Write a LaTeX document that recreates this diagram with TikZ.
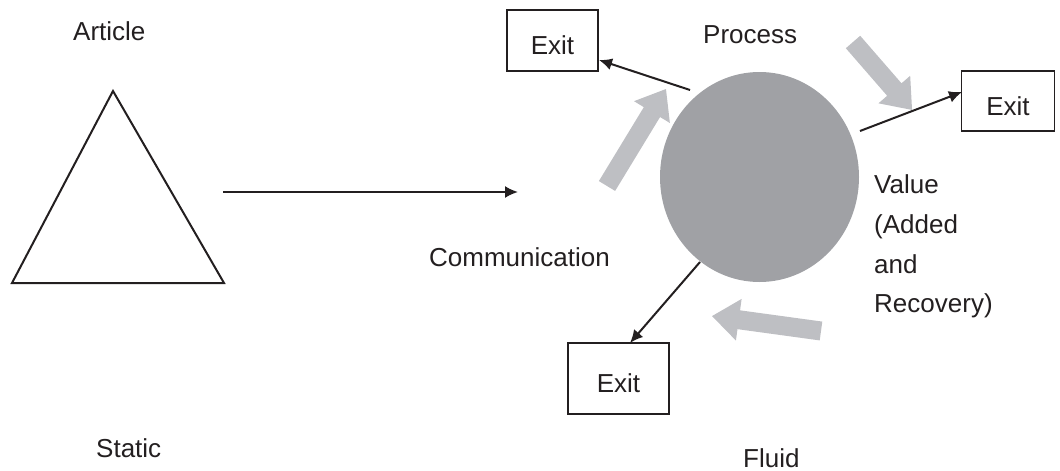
\documentclass[tikz,border=0pt]{standalone}
\usepackage{fontspec}
\setmainfont{Liberation Sans}
\usetikzlibrary{arrows.meta,shapes.geometric}
\definecolor{inkc}{HTML}{231F20}
\definecolor{hubgray}{HTML}{A0A1A5}
\definecolor{flowgray}{HTML}{BEBFC3}
% wide grey arrow: tail point, direction angle, total length
\newcommand{\flowarrow}[3]{%
  \fill[flowgray, shift={#1}, rotate=#2]
    (0,-9.5) -- ({#3-27},-9.5) -- ({#3-27},-21) -- (#3,0)
    -- ({#3-27},21) -- ({#3-27},9.5) -- (0,9.5) -- cycle;}
\begin{document}
\begin{tikzpicture}[x=1pt,y=1pt,
  txt/.style={inner sep=0pt, anchor=base west, text=inkc,
              font=\fontsize{26}{30}\selectfont},
  exitbox/.style={draw=inkc, line width=1.6pt, inner sep=0pt, text=inkc,
              text height=28pt, text depth=0pt,
              font=\fontsize{26}{30}\selectfont},
  link/.style={draw=inkc, line width=2pt, -{Latex[length=13pt,width=12pt]}}]
\useasboundingbox (0,0) rectangle (1060,-471);

% static article
\draw[draw=inkc, line width=2pt, line join=miter]
  (113,-91) -- (224,-283) -- (12,-283) -- cycle;
\node[txt] (article) at (73,-40) {Article};
\node[txt] (static) at (96,-457) {Static};

% communication arrow
\coordinate (flowstart) at (223,-192);
\coordinate (flowend) at (518,-192);
\draw[link] (flowstart) -- (flowend);
\node[txt] (comm) at (429,-266) {Communication};

% the process
\node[ellipse, fill=hubgray, minimum width=199pt, minimum height=210pt,
      inner sep=0pt] (hub) at (759.5,-177) {};
\node[txt] (process) at (703,-43) {Process};
\node[txt] (fluid) at (743,-467) {Fluid};
\node[txt] (v1) at (874,-193) {Value};
\node[txt] (v2) at (874,-233) {(Added};
\node[txt] (v3) at (874,-273) {and};
\node[txt] (v4) at (874,-312) {Recovery)};

% exits
\node[exitbox, minimum width=91pt, minimum height=61pt] (exit1) at (552.5,-40.5) {Exit};
\node[exitbox, minimum width=93pt, minimum height=60pt] (exit2) at (1008,-101) {Exit};
\node[exitbox, minimum width=101pt, minimum height=71pt] (exit3) at (618.5,-378.5) {Exit};

\coordinate (h1) at (690,-90);
\coordinate (t1) at (599,-60);
\coordinate (h2) at (860,-131);
\coordinate (t2) at (962,-92);
\coordinate (h3) at (700,-262);
\coordinate (t3) at (630,-343);
\draw[link] (h1) -- (t1);
\draw[link] (h2) -- (t2);
\draw[link] (h3) -- (t3);

% flows around the process
\flowarrow{(607,-186)}{58.7}{113.5}
\flowarrow{(853,-42)}{-49}{90}
\flowarrow{(821,-331)}{172.2}{110}
\end{tikzpicture}
\end{document}
